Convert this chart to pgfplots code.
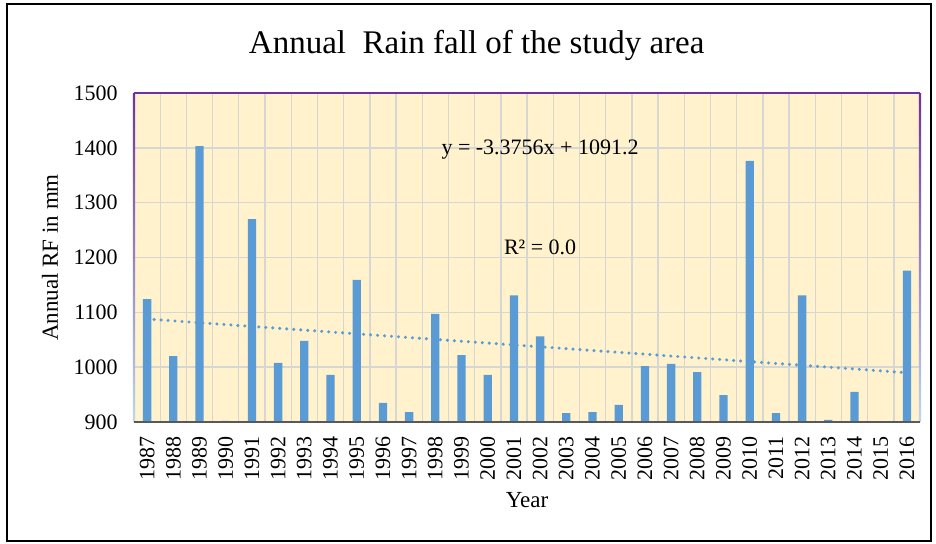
\documentclass[border=0pt]{standalone}
\usepackage{pgfplots}
\pgfplotsset{compat=1.18}
\usepackage{fontspec}
\setmainfont{Liberation Serif}
\usetikzlibrary{calc}
\definecolor{barblue}{HTML}{5B9BD5}
\definecolor{bgyellow}{HTML}{FFF2CC}
\definecolor{gridgray}{HTML}{D6D6D2}
\definecolor{framepurple}{HTML}{7030A0}
\definecolor{framelblue}{HTML}{BDD7EE}
\begin{document}
\begin{tikzpicture}
\useasboundingbox (0,0) rectangle (468pt,272pt);
\draw[line width=1pt, black] (3.5pt,1.5pt) rectangle (465.5pt,270pt);
\begin{axis}[
 name=ax, at={(67pt,61pt)}, anchor=south west,
 scale only axis, width=393pt, height=164.5pt,
 xmin=1986.5, xmax=2016.5, ymin=900, ymax=1500,
 xtick={1987,...,2016}, ytick={900,1000,...,1500},
 minor xtick={1987.5,1988.5,...,2015.5},
 xminorgrids=true, ymajorgrids=true, xmajorgrids=false,
 grid style={gridgray, line width=0.7pt},
 minor grid style={gridgray, line width=0.7pt},
 major tick length=0pt, minor tick length=0pt,
 axis line style={draw=none},
 axis background/.style={fill=bgyellow},
 /pgf/number format/assume math mode=true,
 /pgf/number format/1000 sep={},
 ticklabel style={font=\fontsize{11}{13}\selectfont, inner sep=0pt},
 xticklabel style={yshift=-7pt, rotate=90, anchor=east},
 yticklabel style={xshift=-8pt, anchor=east},
 ylabel={Annual RF in mm}, xlabel={Year},
 label style={font=\fontsize{11.5}{14}\selectfont},
 ylabel style={at={(axis description cs:-0.107,0.5)}, anchor=center},
 xlabel style={at={(axis description cs:0.5,-0.237)}, anchor=center},
 every axis title shift=0pt,
 title={Annual\ \ Rain\ fall\ of\ the\ study\ area},
 title style={at={(axis description cs:0.436,1.146)}, anchor=center, font=\fontsize{16.5}{20}\selectfont},
 clip=true,
]
\addplot[ybar, bar width=4.15pt, fill=barblue, draw=none] coordinates {
(1987,1124) (1988,1020) (1989,1403) (1990,902) (1991,1270) (1992,1008)
(1993,1048) (1994,986) (1995,1159) (1996,935) (1997,918) (1998,1097)
(1999,1022) (2000,986) (2001,1131) (2002,1056) (2003,916) (2004,918)
(2005,931) (2006,1002) (2007,1006) (2008,991) (2009,949) (2010,1376)
(2011,916) (2012,1131) (2013,904) (2014,955) (2015,901) (2016,1176)
};
\addplot[barblue, line width=1.7pt, dash pattern=on 0pt off 3.5pt, line cap=round] coordinates {(1987,1087.8) (2016,989.9)};
\node[font=\fontsize{11}{13}\selectfont] at (axis cs:2002,1396) {y = -3.3756x + 1091.2};
\node[font=\fontsize{11}{13}\selectfont] at (axis cs:2002,1218) {R² = 0.0};
\end{axis}
\shade[top color=framepurple, bottom color=framelblue] ($(ax.south west)+(-0.6pt,0)$) rectangle ($(ax.north west)+(0.6pt,0)$);
\shade[top color=framepurple, bottom color=framelblue] ($(ax.south east)+(-0.6pt,0)$) rectangle ($(ax.north east)+(0.6pt,0)$);
\draw[framepurple, line width=1.2pt] (ax.north west) -- (ax.north east);
\draw[black!65, line width=1pt] (ax.south west) -- (ax.south east);
\end{tikzpicture}
\end{document}
